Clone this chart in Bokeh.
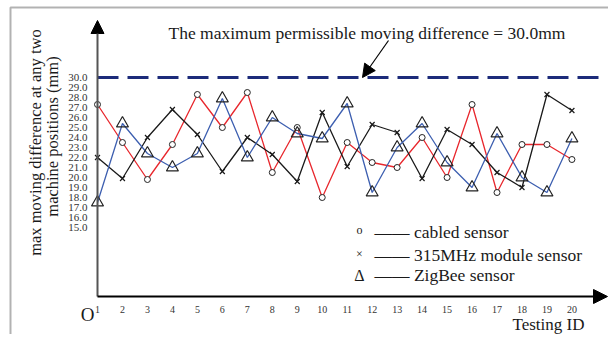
import math
from bokeh.plotting import figure
from bokeh.models import Label, Arrow, NormalHead, BoxAnnotation, Range1d
from bokeh.core.properties import value
from bokeh.embed import file_html
from bokeh.resources import INLINE

# ---------------- data ----------------
test_id = list(range(1, 21))
cabled = [27.3, 23.5, 19.8, 23.3, 28.3, 25.0, 28.5, 20.5, 25.0, 18.0,
          23.5, 21.5, 21.0, 24.0, 20.0, 27.3, 18.5, 23.3, 23.3, 21.8]
module_315 = [22.0, 19.9, 24.0, 26.8, 24.3, 20.6, 24.0, 22.3, 19.6, 26.5,
              21.1, 25.3, 24.5, 19.9, 24.8, 23.3, 20.5, 19.0, 28.3, 26.7]
zigbee = [17.5, 25.4, 22.4, 21.0, 22.4, 27.9, 22.0, 26.0, 24.4, 23.9,
          27.4, 18.5, 23.0, 25.4, 21.5, 19.0, 24.4, 20.0, 18.5, 23.9]
y_ticks = [15, 16, 17, 18, 19, 20, 21, 22, 23, 24, 25, 26, 27, 28, 29, 30]
x_tick_labels = [str(i) for i in test_id]
y_tick_labels = ["%.1f" % v for v in y_ticks]
limit = 30.0
title_text = "The maximum permissible moving difference = 30.0mm"
legend_labels = ["cabled sensor", "315MHz module sensor", "ZigBee sensor"]
legend_symbols = ["o", "\u00d7", "\u0394"]
y_label_lines = ["max  moving difference at any two", "machine positions (mm)"]
x_label = "Testing ID"
origin_label = "O"

# ---------------- layout (canvas pixels) ----------------
CW, CH = 608, 334
X1_PX, XPX = 97.0, 24.97      # pixel of test id 1, pixels per id
Y30_PX, YPX = 77.0, 10.0      # pixel of 30.0 mm, pixels per mm
x_lo = 1 - X1_PX / XPX
x_hi = x_lo + CW / XPX
y_hi = 30 + Y30_PX / YPX
y_lo = y_hi - CH / YPX

def dx(px):
    return x_lo + px / XPX

def dy(py):
    return y_hi - py / YPX

axis_x = test_id[0]           # vertical axis sits at the first test
axis_y = dy(296)              # horizontal axis level (~8.1 mm)

FONT = "Liberation Serif"
RED = "#e8272d"
BLUE = "#3d5fb0"
BLACK = "#1a1a1a"
NAVY = "#1c2b7a"
TXT = "#1a1a1a"

p = figure(width=CW, height=CH, x_range=Range1d(x_lo, x_hi), y_range=Range1d(y_lo, y_hi),
           output_backend="svg", toolbar_location=None, min_border=0,
           x_axis_location=None, y_axis_location=None)
p.outline_line_color = None
p.xgrid.visible = False
p.ygrid.visible = False
p.background_fill_color = "white"
p.border_fill_color = "white"

# outer frame
p.add_layout(BoxAnnotation(left=dx(10), right=dx(900), top=dy(7), bottom=dy(900),
                           fill_color=None, fill_alpha=0, line_color="black", line_width=2))

# limit line
p.line([axis_x, dx(598)], [limit, limit], line_color=NAVY, line_width=3, line_dash="21 9")

# series
p.line(test_id, cabled, line_color=RED, line_width=1.3)
p.line(test_id, module_315, line_color=BLACK, line_width=1.3)
p.line(test_id, zigbee, line_color=BLUE, line_width=1.3)
p.scatter(test_id, cabled, marker="circle", size=6, fill_color="white",
          line_color="#222222", line_width=1)
p.scatter(test_id, module_315, marker="x", size=7, line_color=BLACK, line_width=1.2)
p.scatter(test_id, zigbee, marker="triangle", size=12, fill_color=None,
          line_color="#222222", line_width=1.2)

# axes with arrowheads
p.add_layout(Arrow(end=NormalHead(size=13, fill_color="black", line_color="black"),
                   x_start=axis_x, y_start=axis_y, x_end=axis_x, y_end=dy(20),
                   line_color="#555555", line_width=2))
p.add_layout(Arrow(end=NormalHead(size=14, fill_color="black", line_color="black"),
                   x_start=axis_x, y_start=axis_y, x_end=dx(607), y_end=axis_y,
                   line_color="black", line_width=2))

# tick labels
p.text(x=test_id, y=[axis_y] * len(test_id), text=x_tick_labels, y_offset=13,
       text_font=value(FONT), text_font_size=value("10px"), text_color="#333333",
       text_align="center", text_baseline="middle")
p.text(x=[axis_x] * len(y_ticks), y=y_ticks, text=y_tick_labels, x_offset=-10,
       text_font=value(FONT), text_font_size=value("11px"), text_color="#333333",
       text_align="right", text_baseline="middle")

def label(px, py, text, size, align="left", angle=0.0):
    p.add_layout(Label(x=dx(px), y=dy(py), text=text, angle=angle, text_font=FONT,
                       text_font_size=size, text_color=TXT,
                       text_align=align, text_baseline="middle"))

# annotation text + arrow
label(168, 32, title_text, "17.5px")
p.add_layout(Arrow(end=NormalHead(size=13, fill_color="black", line_color="black"),
                   x_start=dx(388), y_start=dy(40), x_end=dx(362), y_end=dy(77),
                   line_color="black", line_width=1.2))

# legend (drawn as text)
sym_sizes = ["12px", "12px", "16px"]
sym_mid = [229.7, 253, 275]
txt_mid = [231, 254, 274]
for sym, ss, sm, lab, tm in zip(legend_symbols, sym_sizes, sym_mid, legend_labels, txt_mid):
    label(359, sm, sym, ss, align="center")
    label(374, tm, "\u2014\u2014 " + lab, "17.5px")

# axis titles
label(35, 140, y_label_lines[0], "16.5px", align="center", angle=math.pi / 2)
label(52, 136, y_label_lines[1], "16.5px", align="center", angle=math.pi / 2)
label(87, 313.5, origin_label, "19px", align="center")
label(584, 324, x_label, "17px", align="right")

open("out.html", "w").write(file_html(p, INLINE))
